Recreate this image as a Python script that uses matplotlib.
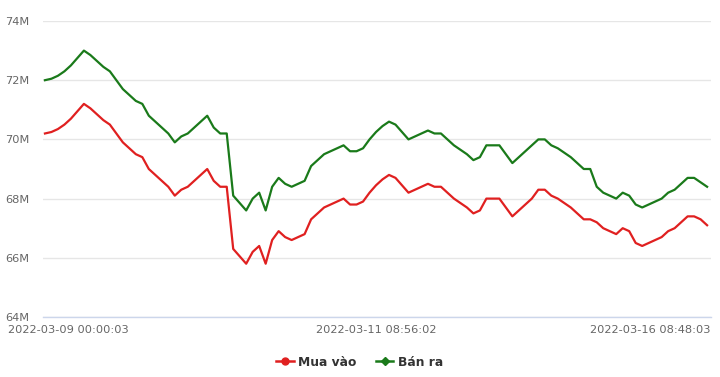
import matplotlib
matplotlib.use("Agg")
import matplotlib.pyplot as plt
from matplotlib.lines import Line2D

# gold price, millions VND, one value per time stamp
mua_vao = [70.2, 70.25, 70.35, 70.5, 70.7, 70.95, 71.2, 71.05, 70.85, 70.65,
           70.5, 70.2, 69.9, 69.7, 69.5, 69.4, 69.0, 68.8, 68.6, 68.4,
           68.1, 68.3, 68.4, 68.6, 68.8, 69.0, 68.6, 68.4, 68.4, 66.3,
           66.05, 65.8, 66.2, 66.4, 65.8, 66.6, 66.9, 66.7, 66.6, 66.7,
           66.8, 67.3, 67.5, 67.7, 67.8, 67.9, 68.0, 67.8, 67.8, 67.9,
           68.2, 68.45, 68.65, 68.8, 68.7, 68.45, 68.2, 68.3, 68.4, 68.5,
           68.4, 68.4, 68.2, 68.0, 67.85, 67.7, 67.5, 67.6, 68.0, 68.0,
           68.0, 67.7, 67.4, 67.6, 67.8, 68.0, 68.3, 68.3, 68.1, 68.0,
           67.85, 67.7, 67.5, 67.3, 67.3, 67.2, 67.0, 66.9, 66.8, 67.0,
           66.9, 66.5, 66.4, 66.5, 66.6, 66.7, 66.9, 67.0, 67.2, 67.4,
           67.4, 67.3, 67.1]

ban_ra = [72.0, 72.05, 72.15, 72.3, 72.5, 72.75, 73.0, 72.85, 72.65, 72.45,
          72.3, 72.0, 71.7, 71.5, 71.3, 71.2, 70.8, 70.6, 70.4, 70.2,
          69.9, 70.1, 70.2, 70.4, 70.6, 70.8, 70.4, 70.2, 70.2, 68.1,
          67.85, 67.6, 68.0, 68.2, 67.6, 68.4, 68.7, 68.5, 68.4, 68.5,
          68.6, 69.1, 69.3, 69.5, 69.6, 69.7, 69.8, 69.6, 69.6, 69.7,
          70.0, 70.25, 70.45, 70.6, 70.5, 70.25, 70.0, 70.1, 70.2, 70.3,
          70.2, 70.2, 70.0, 69.8, 69.65, 69.5, 69.3, 69.4, 69.8, 69.8,
          69.8, 69.5, 69.2, 69.4, 69.6, 69.8, 70.0, 70.0, 69.8, 69.7,
          69.55, 69.4, 69.2, 69.0, 69.0, 68.4, 68.2, 68.1, 68.0, 68.2,
          68.1, 67.8, 67.7, 67.8, 67.9, 68.0, 68.2, 68.3, 68.5, 68.7,
          68.7, 68.55, 68.4]

x_labels = ["2022-03-09 00:00:03", "2022-03-11 08:56:02", "2022-03-16 08:48:03"]
y_ticks = [64, 66, 68, 70, 72, 74]

RED = "#e02020"
GREEN = "#1a7a1a"
TXT = "#666666"

W, H = 720, 377
fig = plt.figure(figsize=(W / 100, H / 100), dpi=100)
ax = fig.add_axes([43 / W, 1 - 317 / H, (711 - 43) / W, (317 - 21) / H])

idx = list(range(len(mua_vao)))
ax.plot(idx, mua_vao, color=RED, lw=1.6, solid_joinstyle="round", zorder=3)
ax.plot(idx, ban_ra, color=GREEN, lw=1.6, solid_joinstyle="round", zorder=3)

ax.set_xlim(-0.3, 102.6)
ax.set_ylim(64, 74)
ax.set_yticks(y_ticks)
ax.set_yticklabels([f"{v}M" for v in y_ticks], color=TXT, fontsize=8.2)
ax.tick_params(axis="y", length=0, pad=10)
ax.set_xticks([])
ax.grid(axis="y", color="#e6e6e6", lw=1)
ax.set_axisbelow(True)
for side in ["top", "right", "left"]:
    ax.spines[side].set_visible(False)
ax.spines["bottom"].set_color("#ccd6eb")
ax.spines["bottom"].set_linewidth(1)

# x labels: first one pushed in from the left edge, last one right aligned
ty = 1 - 330 / H
fig.text(8 / W, ty, x_labels[0], color=TXT, fontsize=8.2, ha="left", va="center")
fig.text(376 / W, ty, x_labels[1], color=TXT, fontsize=8.2, ha="center", va="center")
fig.text(710 / W, ty, x_labels[2], color=TXT, fontsize=8.2, ha="right", va="center")

handles = [Line2D([], [], color=RED, lw=1.8, marker="o", markersize=5),
           Line2D([], [], color=GREEN, lw=1.8, marker="D", markersize=4.5)]
fig.legend(handles, ["Mua vào", "Bán ra"], loc="center", bbox_to_anchor=(360 / W, 1 - 362 / H),
           ncol=2, frameon=False, handlelength=1.4, handletextpad=0.4, columnspacing=1.6,
           prop={"size": 8.8, "weight": "bold"}, labelcolor="#333333")

fig.savefig("out.png", dpi=100)
